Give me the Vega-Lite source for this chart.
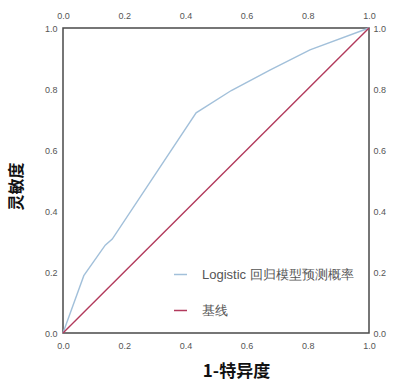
{
  "$schema": "https://vega.github.io/schema/vega-lite/v6.json",
  "width": 306,
  "height": 305,
  "autosize": {"type": "none"},
  "padding": {"left": 63, "top": 28, "right": 25, "bottom": 53},
  "background": "white",
  "config": {
    "view": {"stroke": "#4a4a4a", "strokeWidth": 1.5},
    "axis": {
      "grid": false, "ticks": false, "domain": false, "labelFlush": false,
      "labelFont": "Liberation Sans", "labelFontSize": 9, "labelColor": "#555555",
      "titleFont": "Noto Sans CJK SC", "titleFontWeight": "bold", "titleColor": "#111111"
    },
    "legend": {
      "labelFont": "Liberation Sans", "labelFontSize": 13, "labelColor": "#555555", "labelLimit": 300
    }
  },
  "data": {
    "values": [
      {"series": "Logistic 回归模型预测概率", "fpr": 0.0, "tpr": 0.0},
      {"series": "Logistic 回归模型预测概率", "fpr": 0.068, "tpr": 0.188},
      {"series": "Logistic 回归模型预测概率", "fpr": 0.138, "tpr": 0.288},
      {"series": "Logistic 回归模型预测概率", "fpr": 0.161, "tpr": 0.308},
      {"series": "Logistic 回归模型预测概率", "fpr": 0.435, "tpr": 0.722},
      {"series": "Logistic 回归模型预测概率", "fpr": 0.55, "tpr": 0.795},
      {"series": "Logistic 回归模型预测概率", "fpr": 0.676, "tpr": 0.862},
      {"series": "Logistic 回归模型预测概率", "fpr": 0.807, "tpr": 0.928},
      {"series": "Logistic 回归模型预测概率", "fpr": 1.0, "tpr": 1.0},
      {"series": "\u00a0\u00a0基线", "fpr": 0.0, "tpr": 0.0},
      {"series": "\u00a0\u00a0基线", "fpr": 1.0, "tpr": 1.0}
    ]
  },
  "layer": [
    {
      "mark": {"type": "line", "strokeWidth": 1.4},
      "encoding": {
        "x": {"field": "fpr", "type": "quantitative", "scale": {"domain": [0, 1]},
              "axis": {"orient": "bottom", "title": "1-特异度", "titleFontSize": 17, "format": ".1f",
                       "values": [0, 0.2, 0.4, 0.6, 0.8, 1.0], "labelPadding": 8, "titlePadding": 13, "titleX": 173}},
        "y": {"field": "tpr", "type": "quantitative", "scale": {"domain": [0, 1]},
              "axis": {"orient": "left", "title": "灵敏度", "titleFontSize": 16, "format": ".1f",
                       "values": [0, 0.2, 0.4, 0.6, 0.8, 1.0], "labelPadding": 6, "titlePadding": 20, "titleY": 158}},
        "color": {"field": "series", "type": "nominal",
                  "sort": ["Logistic 回归模型预测概率", "\u00a0\u00a0基线"],
                  "scale": {"domain": ["Logistic 回归模型预测概率", "\u00a0\u00a0基线"], "range": ["#a2c0da", "#b23a5c"]},
                  "legend": {"title": null, "orient": "bottom-right", "offset": 7, "symbolType": "stroke",
                             "symbolSize": 169, "symbolStrokeWidth": 1.5, "labelOffset": 14, "rowPadding": 21, "padding": 8}}
      }
    },
    {
      "mark": {"type": "line", "opacity": 0},
      "encoding": {
        "x": {"field": "fpr", "type": "quantitative", "scale": {"domain": [0, 1]},
              "axis": {"orient": "top", "title": null, "format": ".1f",
                       "values": [0, 0.2, 0.4, 0.6, 0.8, 1.0], "labelPadding": 8}},
        "y": {"field": "tpr", "type": "quantitative", "scale": {"domain": [0, 1]},
              "axis": {"orient": "right", "title": null, "format": ".1f",
                       "values": [0, 0.2, 0.4, 0.6, 0.8, 1.0], "labelPadding": 4}},
        "detail": {"field": "series", "type": "nominal"}
      }
    }
  ],
  "resolve": {"axis": {"x": "independent", "y": "independent"}}
}
